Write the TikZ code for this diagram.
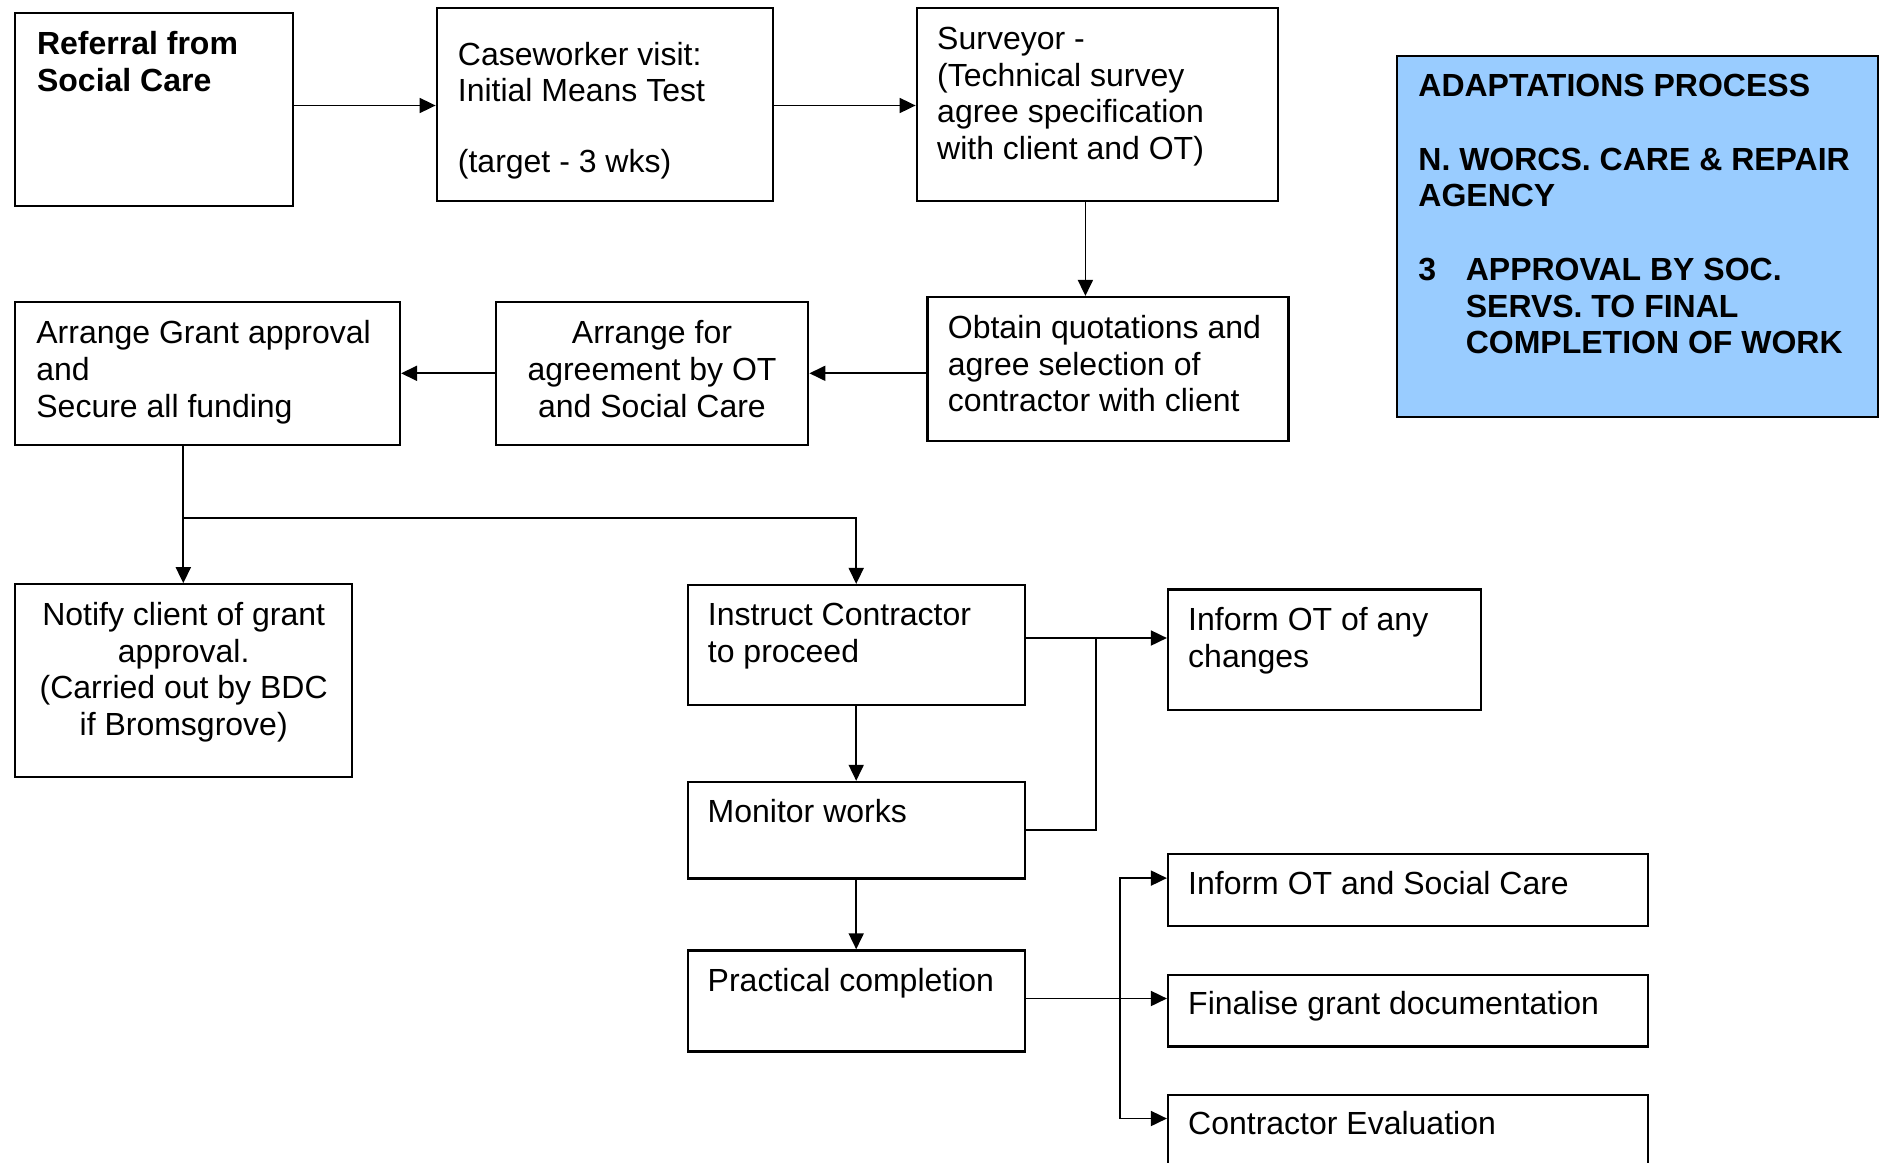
\documentclass[tikz,border=0pt]{standalone}
\usepackage{fontspec}
\setmainfont{Liberation Sans}
\usetikzlibrary{arrows.meta,fit}
\definecolor{infoblue}{HTML}{99CCFF}
\newcommand\dgfont{\fontsize{16}{18.35}\selectfont}
\tikzset{flowtip/.tip={Triangle[length=8pt,width=7.5pt]}}
\begin{document}
\begin{tikzpicture}[x=0.5pt,y=-0.5pt,
  box/.style={draw=black, line width=1.1pt, inner sep=0pt, fill=white},
  infobox/.style={box, fill=infoblue},
  txt/.style={anchor=north west, inner sep=0pt, align=left, font=\dgfont},
  ctxt/.style={anchor=north, inner sep=0pt, align=center, font=\dgfont},
  btxt/.style={txt, font=\dgfont\bfseries},
  link/.style={draw=black, line width=0.9pt},
  arr/.style={link, -flowtip},
  biarr/.style={link, flowtip-flowtip},
]
\fill[white] (0,0) rectangle (1879,1162);
\useasboundingbox (0,0) rectangle (1879,1162);

% boxes
\node[box, fit={(15,13.3) (293.3,205.7)}] (ref) {};
\node[box, fit={(436.7,8.3) (773.3,201)}] (cw) {};
\node[box, fit={(916.7,8.3) (1277.7,200.7)}] (sur) {};
\node[infobox, fit={(1396.7,56) (1877.6,416.7)}] (info) {};
\node[box, fit={(927.5,297) (1288.4,441)}] (obt) {};
\node[box, fit={(496,301.7) (808.3,445)}] (agree) {};
\node[box, fit={(15,301.7) (400,445)}] (grant) {};
\node[box, fit={(15,584.3) (352.3,776.7)}] (notify) {};
\node[box, fit={(687.8,585) (1024.6,705)}] (instr) {};
\node[box, fit={(1168,589.5) (1480.7,710)}] (chg) {};
\node[box, fit={(687.8,781.9) (1024.6,878.5)}] (mon) {};
\node[box, fit={(687.8,950.4) (1024.6,1051.5)}] (prac) {};
\node[box, fit={(1168,854.2) (1647.6,926.2)}] (otsc) {};
\node[box, fit={(1168,974.6) (1647.6,1046.5)}] (fin) {};
\node[box, fit={(1168,1094.6) (1647.6,1185)}] (eval) {};

% texts
\node[btxt] (ref-t) at (36.7,28.8) {\strut Referral from\\ \strut Social Care};
\node[txt] (cw-t) at (457.5,39) {\strut Caseworker visit:\\ \strut Initial Means Test\\[-1.5pt] \strut\\ \strut (target - 3 wks)};
\node[txt] (sur-t) at (936.8,23.3) {\strut Surveyor -\\ \strut (Technical survey\\ \strut agree specification\\ \strut with client and OT)};
\node[btxt] (info-t) at (1418,70.8) {\strut ADAPTATIONS PROCESS\\ \strut\\ \strut N. WORCS. CARE \& REPAIR\\ \strut AGENCY\\ \strut\\ \strut\makebox[23.7pt][l]{3}APPROVAL BY SOC.\\ \strut\hspace*{23.7pt}SERVS. TO FINAL\\ \strut\hspace*{23.7pt}COMPLETION OF WORK};
\node[txt] (obt-t) at (947.5,312.3) {\strut Obtain quotations and\\ \strut agree selection of\\ \strut contractor with client};
\node[ctxt] (agree-t) at (652,317.6) {\strut Arrange for\\ \strut agreement by OT\\ \strut and Social Care};
\node[txt] (grant-t) at (36,317.6) {\strut Arrange Grant approval\\ \strut and\\ \strut Secure all funding};
\node[ctxt] (notify-t) at (183.7,599.3) {\strut Notify client of grant\\ \strut approval.\\ \strut (Carried out by BDC\\ \strut if Bromsgrove)};
\node[txt] (instr-t) at (707.5,599.7) {\strut Instruct Contractor\\ \strut to proceed};
\node[txt] (chg-t) at (1187.8,604.3) {\strut Inform OT of any\\ \strut changes};
\node[txt] (mon-t) at (707.3,796.6) {\strut Monitor works};
\node[txt] (prac-t) at (707.3,965.1) {\strut Practical completion};
\node[txt] (otsc-t) at (1187.8,868.1) {\strut Inform OT and Social Care};
\node[txt] (fin-t) at (1187.8,988.1) {\strut Finalise grant documentation};
\node[txt] (eval-t) at (1187.8,1108.1) {\strut Contractor Evaluation};

% connector levels and junctions
\coordinate (r1) at (0,105.5);
\coordinate (c1) at (1085.4,0);
\coordinate (r2) at (0,373.3);
\coordinate (j1) at (183.3,517.7);
\coordinate (r3) at (0,638);
\coordinate (j2) at (1096,638);
\coordinate (r4) at (0,998.5);
\coordinate (b1) at (1119.6,878.1);
\coordinate (b2) at (1119.6,1118.5);

% connectors
\draw[arr] (ref.east |- r1) -- (cw.west |- r1);
\draw[arr] (cw.east |- r1) -- (sur.west |- r1);
\draw[arr] (sur.south -| c1) -- (obt.north -| c1);
\draw[arr] (obt.west |- r2) -- (agree.east |- r2);
\draw[arr] (agree.west |- r2) -- (grant.east |- r2);
\draw[arr] (grant.south -| j1) -- (notify.north -| j1);
\draw[arr] (j1) -| (instr.north);
\draw[arr] (instr.south) -- (mon.north);
\draw[arr] (mon.south) -- (prac.north);
\draw[arr] (instr.east |- r3) -- (chg.west |- r3);
\draw[link] (mon.east) -| (j2);
\draw[arr] (prac.east |- r4) -- (fin.west |- r4);
\draw[biarr] (otsc.west |- b1) -- (b1) -- (b2) -- (eval.west |- b2);
\end{tikzpicture}
\end{document}
